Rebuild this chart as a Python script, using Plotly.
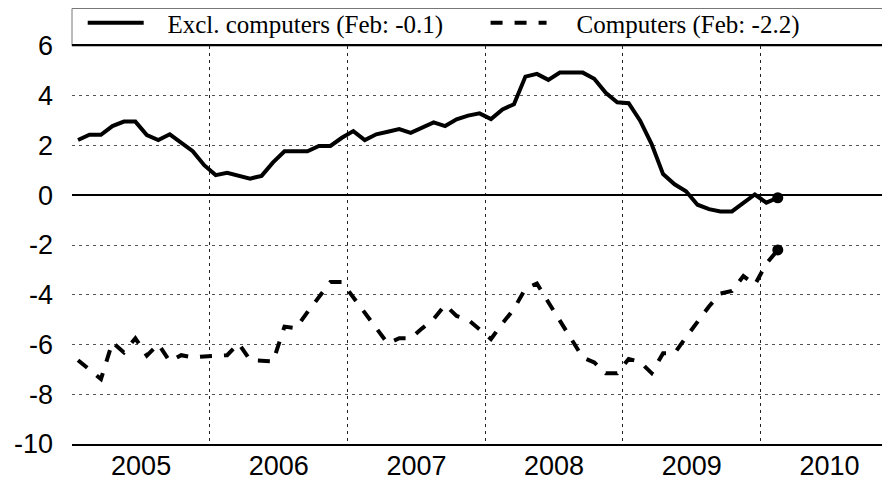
import plotly.graph_objects as go

# Monthly readings, Jan 2005 .. Feb 2010 (percent)
start_year = 2005
excl_computers = [
    2.22, 2.43, 2.43, 2.78, 2.96, 2.96, 2.42, 2.22, 2.45, 2.11, 1.77, 1.21,
    0.81, 0.90, 0.78, 0.67, 0.78, 1.32, 1.77, 1.77, 1.77, 1.98, 1.98, 2.31,
    2.58, 2.22, 2.45, 2.55, 2.66, 2.51, 2.71, 2.93, 2.78, 3.05, 3.20, 3.29,
    3.06, 3.45, 3.66, 4.77, 4.88, 4.64, 4.93, 4.93, 4.93, 4.68, 4.12, 3.74,
    3.70, 3.00, 2.06, 0.85, 0.44, 0.16, -0.38, -0.56, -0.65, -0.65, -0.30, 0.03,
    -0.30, -0.10,
]
computers = [
    -6.63, -7.00, -7.39, -5.91, -6.32, -5.75, -6.45, -5.98, -6.68, -6.43, -6.52, -6.48,
    -6.45, -6.43, -5.95, -6.63, -6.65, -6.68, -5.28, -5.34, -4.70, -4.10, -3.49, -3.49,
    -4.11, -4.72, -5.34, -5.96, -5.75, -5.75, -5.35, -4.98, -4.41, -4.85, -5.00, -5.38,
    -5.78, -5.15, -4.57, -3.75, -3.55, -4.30, -5.04, -5.85, -6.52, -6.72, -7.16, -7.16,
    -6.58, -6.70, -7.15, -6.35, -6.35, -5.71, -5.09, -4.47, -3.95, -3.85, -3.25, -3.60,
    -2.75, -2.20,
]
year_labels = ['2005', '2006', '2007', '2008', '2009', '2010']
y_ticks = [6, 4, 2, 0, -2, -4, -6, -8, -10]

# month mid-points as decimal years
months = [start_year + (i + 0.5) / 12 for i in range(len(excl_computers))]
years = [start_year + k for k in range(len(year_labels))]

fig = go.Figure()

fig.add_trace(go.Scatter(
    x=months, y=excl_computers, mode='lines',
    name='\u00a0\u00a0\u00a0Excl. computers (Feb: -0.1)' + '\u00a0' * 6,
    line=dict(color='black', width=4),
))
fig.add_trace(go.Scatter(
    x=months, y=computers, mode='lines',
    name='\u00a0\u00a0\u00a0\u00a0Computers (Feb: -2.2)',
    line=dict(color='black', width=4, dash='dash'),
))
# latest values marked with a dot
fig.add_trace(go.Scatter(
    x=[months[-1], months[-1]], y=[excl_computers[-1], computers[-1]],
    mode='markers', marker=dict(color='black', size=11),
    showlegend=False,
))

# legend frame above the plot area
fig.add_shape(type='rect', xref='paper', yref='paper',
              x0=0, x1=1.02, y0=1, y1=1 + 37.5 / 398,
              line=dict(color='#777', width=1), fillcolor='white', layer='below')

fig.update_layout(
    width=890, height=480,
    margin=dict(l=64, r=8, t=38, b=44),
    plot_bgcolor='white', paper_bgcolor='white',
    font=dict(family='Liberation Sans, Arial', size=27, color='black'),
    showlegend=True,
    legend=dict(
        orientation='h', x=10.7 / 818, xanchor='left',
        yref='container', y=1 - 15 / 480, yanchor='middle',
        borderwidth=0, bgcolor='rgba(0,0,0,0)',
        font=dict(family='Liberation Serif, Times New Roman', size=25, color='black'),
        itemwidth=56,
    ),
    xaxis=dict(
        range=[2004.998, 2010.94], automargin=False,
        tickmode='array', tickvals=[y + 0.5 for y in years], ticktext=year_labels,
        showgrid=False, ticks='', zeroline=False,
        showline=True, linecolor='black', linewidth=2, mirror=True,
        ticklabelstandoff=-3,
        minor=dict(tickmode='array', tickvals=years, showgrid=True,
                   gridcolor='#222', gridwidth=1, griddash='3px,4px', ticks=''),
    ),
    yaxis=dict(
        range=[-10, 6], automargin=False,
        tickmode='array', tickvals=y_ticks, ticktext=[str(v) for v in y_ticks],
        showgrid=True, gridcolor='#555', gridwidth=1, griddash='3px,4px',
        zeroline=True, zerolinecolor='black', zerolinewidth=2,
        showline=False, ticks='', ticklabelstandoff=18,
    ),
)

fig.write_html("out.html")
